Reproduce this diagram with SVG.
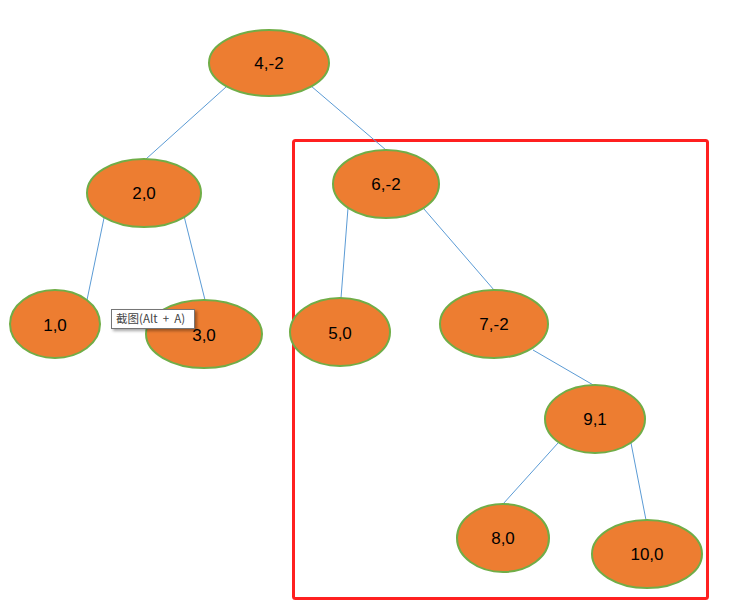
<svg xmlns="http://www.w3.org/2000/svg" width="734" height="616" viewBox="0 0 734 616">
<defs>
<style>
.n ellipse{fill:#ED7D31;stroke:#70AD47;stroke-width:2}
.n text{font-family:"Liberation Sans",Arial,sans-serif;font-size:17px;fill:#000;text-anchor:middle;dominant-baseline:central}
.c line{stroke:#5B9BD5;stroke-width:1}
</style>
<filter id="sh" x="-10%" y="-20%" width="130%" height="160%"><feDropShadow dx="2" dy="2" stdDeviation="1.5" flood-color="#000" flood-opacity="0.35"/></filter>
</defs>
<rect width="734" height="616" fill="#fff"/>
<rect x="293.5" y="140.5" width="414" height="458" rx="2" fill="none" stroke="#FF2020" stroke-width="3"/>
<g class="c" id="connectors">
<line x1="226" y1="87" x2="146" y2="159"/>
<line x1="311" y1="86" x2="386" y2="150"/>
<line x1="104" y1="218" x2="87" y2="300"/>
<line x1="184" y1="216" x2="205" y2="300"/>
<line x1="348" y1="208" x2="341" y2="298"/>
<line x1="424" y1="209" x2="494" y2="290"/>
<line x1="533" y1="350" x2="595" y2="386"/>
<line x1="558" y1="443" x2="503" y2="504"/>
<line x1="631" y1="443" x2="646" y2="520"/>
</g>
<g class="n" id="n4"><ellipse cx="269" cy="63" rx="60" ry="33"/><text x="269" y="63">4,-2</text></g>
<g class="n" id="n2"><ellipse cx="144" cy="193" rx="57" ry="34"/><text x="144" y="193">2,0</text></g>
<g class="n" id="n1"><ellipse cx="55" cy="324" rx="45" ry="34"/><text x="55" y="325">1,0</text></g>
<g class="n" id="n3"><ellipse cx="204" cy="334" rx="58" ry="34"/><text x="204" y="335">3,0</text></g>
<g class="n" id="n6"><ellipse cx="386" cy="184" rx="53" ry="34"/><text x="386" y="184">6,-2</text></g>
<g class="n" id="n5"><ellipse cx="340" cy="332" rx="50" ry="34"/><text x="340" y="333">5,0</text></g>
<g class="n" id="n7"><ellipse cx="494" cy="324" rx="54" ry="34"/><text x="494" y="324">7,-2</text></g>
<g class="n" id="n9"><ellipse cx="595" cy="419" rx="50" ry="34"/><text x="595" y="419">9,1</text></g>
<g class="n" id="n8"><ellipse cx="503" cy="538" rx="46" ry="34"/><text x="503" y="538">8,0</text></g>
<g class="n" id="n10"><ellipse cx="647" cy="554" rx="55" ry="34"/><text x="647" y="554">10,0</text></g>
<g id="tooltip">
<rect x="111.5" y="309.5" width="83" height="19" fill="#fff" stroke="#767676" stroke-width="1" filter="url(#sh)"/>
<text x="116" y="323" font-family="'Noto Sans CJK SC','Liberation Sans',sans-serif" font-size="11.5" fill="#444" xml:space="preserve">截图(Alt  +  A)</text>
</g>
</svg>
